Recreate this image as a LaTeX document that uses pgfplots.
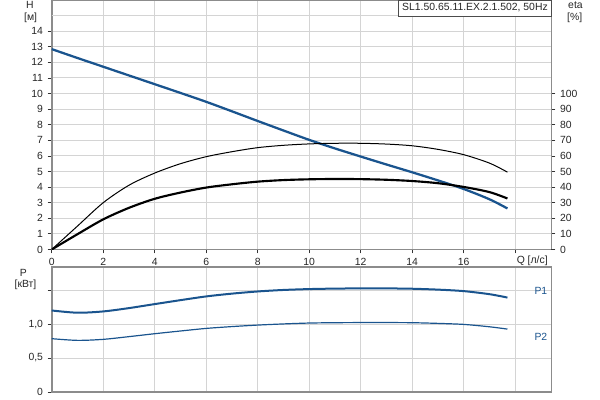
\documentclass[border=0pt]{standalone}
\usepackage{pgfplots}
\pgfplotsset{compat=1.18}
\usepackage{fontspec}
\setmainfont{Liberation Sans}

\definecolor{pblue}{RGB}{26,84,142}
\definecolor{gridgray}{RGB}{212,212,212}
\definecolor{framegray}{RGB}{140,140,140}

\pgfplotsset{
  pump/.style={
    scale only axis,
    width=374.8pt,
    xmin=0, xmax=19.41,
    axis line style={framegray, line width=1.4pt},
    grid=major,
    major grid style={gridgray, line width=0.75pt},
    tick style={black!80, line width=0.6pt},
    tick align=outside,
    major tick length=3pt,
    tick label style={font=\fontsize{7.8}{9}\selectfont, text=black!85},
    /pgf/number format/assume math mode=true,
    xtick={0,2,...,18},
    xtick pos=bottom,
    ytick pos=left,
  },
}

\newcommand{\lblfont}{\fontsize{7.8}{9}\selectfont}

\begin{document}
\begin{tikzpicture}
\path[use as bounding box] (0,0) rectangle (450pt,300pt);

% ---- H(Q) ----
\begin{axis}[pump,
  at={(38.8pt,112.9pt)}, anchor=south west,
  height=187.1pt,
  clip=false,
  ymin=0, ymax=16,
  ytick={0,1,...,14},
  extra y ticks={15},
  extra y tick labels={},
  extra y tick style={major tick length=0pt},
  xticklabels={0,2,4,6,8,10,12,14,16,},
]
\addplot[pblue, line width=1.7pt, smooth] coordinates {
  (0,12.85) (1,12.28) (2,11.72) (3,11.16) (4,10.60) (5,10.04) (6,9.47)
  (7,8.86) (8,8.24) (9,7.63) (10,7.03) (11,6.48) (12,5.96) (13,5.45)
  (14,4.95) (15,4.43) (16,3.88) (17,3.22) (17.7,2.63)};
\node[anchor=north west, font=\lblfont, inner sep=2pt, text=black!85]
  at (axis cs:18,0) [yshift=-3pt, xshift=-1pt] {Q [л/с]};
\end{axis}

% ---- eta(Q) ----
\begin{axis}[pump,
  at={(38.8pt,112.9pt)}, anchor=south west,
  height=187.1pt,
  ymin=0, ymax=160,
  axis x line=none,
  axis y line*=right,
  ytick pos=right,
  grid=none,
  ytick={0,10,...,100},
]
\addplot[black, line width=0.75pt, smooth] coordinates {
  (0,0) (1,15.0) (2,30.0) (3,41.2) (4,49.0) (5,55.0) (6,59.5) (7,62.7)
  (8,65.3) (9,66.8) (10,67.7) (11,68.1) (12,68.1) (13,67.6) (14,66.5)
  (15,64.2) (16,60.8) (17,55.4) (17.7,49.6)};
\addplot[black, line width=1.6pt, smooth] coordinates {
  (0,0) (1,9.8) (2,19.3) (3,26.7) (4,32.5) (5,36.5) (6,39.7) (7,41.8)
  (8,43.5) (9,44.5) (10,45.0) (11,45.2) (12,45.1) (13,44.7) (14,43.9)
  (15,42.5) (16,40.1) (17,36.8) (17.7,32.7)};
\end{axis}

% ---- P(Q) ----
\begin{axis}[pump,
  at={(38.8pt,6pt)}, anchor=south west,
  height=93.75pt,
  ymin=0, ymax=1.84,
  ytick={0,0.5,1,1.5},
  yticklabels={0,{0,5},{1,0},},
  xticklabels={},
  xtick style={draw=none},
]
\addplot[pblue, line width=1.5pt, smooth] coordinates {
  (0,1.20) (1,1.167) (2,1.186) (3,1.235) (4,1.294) (5,1.352) (6,1.407)
  (7,1.448) (8,1.480) (9,1.502) (10,1.515) (11,1.522) (12,1.525)
  (13,1.525) (14,1.520) (15,1.507) (16,1.485) (17,1.440) (17.7,1.39)};
\addplot[pblue, line width=0.9pt, smooth] coordinates {
  (0,0.785) (1,0.760) (2,0.775) (3,0.815) (4,0.858) (5,0.898) (6,0.936)
  (7,0.963) (8,0.985) (9,1.002) (10,1.015) (11,1.020) (12,1.022)
  (13,1.022) (14,1.020) (15,1.010) (16,0.995) (17,0.960) (17.7,0.926)};
\node[font=\lblfont, text=pblue] at (axis cs:19.0,1.49) {P1};
\node[font=\lblfont, text=pblue] at (axis cs:19.0,0.81) {P2};
\end{axis}

% ---- axis titles and caption box ----
\node[font=\lblfont, text=black!85] at (22.5pt,296.3pt) {H};
\node[font=\lblfont, text=black!85] at (23pt,287pt) {[м]};
\node[font=\lblfont, text=black!85] at (431.6pt,296.3pt) {eta};
\node[font=\lblfont, text=black!85] at (431pt,287pt) {[\%]};
\node[font=\lblfont, text=black!85] at (17.6pt,95.5pt) {P};
\node[font=\lblfont, text=black!85] at (19.1pt,86.3pt) {[кВт]};
\node[anchor=north east, draw=black!70, line width=0.6pt, fill=white,
  font=\lblfont, text=black!85, inner xsep=2.5pt, inner ysep=2pt,
  minimum height=12pt] at (413.6pt,300.3pt) {SL1.50.65.11.EX.2.1.502, 50Hz};
\end{tikzpicture}
\end{document}
